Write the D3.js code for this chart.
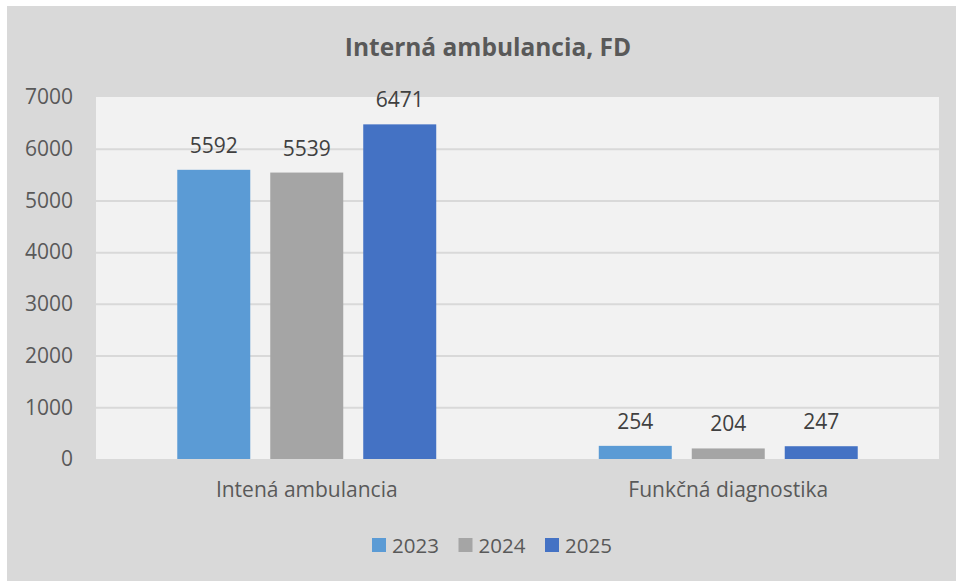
<!DOCTYPE html>
<html>
<head>
<meta charset="utf-8">
<script src="https://cdn.jsdelivr.net/npm/d3@7"></script>
<style>
  html, body { margin: 0; padding: 0; background: #fff; }
  svg text { font-family: "Open Sans", sans-serif; }
</style>
</head>
<body>
<svg id="chart" width="956" height="581"></svg>
<script>
const categories = ["Intená ambulancia", "Funkčná diagnostika"];
const years = ["2023", "2024", "2025"];
const values2023 = [5592, 254];
const values2024 = [5539, 204];
const values2025 = [6471, 247];
const yTicks = [0, 1000, 2000, 3000, 4000, 5000, 6000, 7000];
const colors = ["#5B9BD5", "#A5A5A5", "#4472C4"];

const seriesValues = [values2023, values2024, values2025];
const rows = categories.map((c, i) => ({
  category: c,
  bars: years.map((y, j) => ({ year: y, value: seriesValues[j][i], color: colors[j] }))
}));

const svg = d3.select("#chart");

// backgrounds
svg.append("rect").attr("x", 7).attr("y", 6).attr("width", 949).attr("height", 575).attr("fill", "#D9D9D9");

const plot = { left: 96, right: 939, top: 97, bottom: 459 };
svg.append("rect")
  .attr("x", plot.left).attr("y", plot.top)
  .attr("width", plot.right - plot.left).attr("height", plot.bottom - plot.top)
  .attr("fill", "#F2F2F2");

const x0 = d3.scaleBand().domain(categories).range([plot.left, plot.right]).padding(0);
const x1 = d3.scaleBand().domain(years).range([0, x0.bandwidth()])
  .paddingInner(20 / 93).paddingOuter(0.874);
const y = d3.scaleLinear().domain([0, 7000]).range([plot.bottom, plot.top]);

// gridlines
svg.append("g").selectAll("line")
  .data(yTicks.filter(t => t > 0 && t < 7000))
  .join("line")
  .attr("x1", plot.left).attr("x2", plot.right)
  .attr("y1", d => y(d) + 0.5).attr("y2", d => y(d) + 0.5)
  .attr("stroke", "#D9D9D9").attr("stroke-width", 2);

// y axis labels
const yAxis = svg.append("g")
  .attr("transform", `translate(${plot.left - 23},0)`)
  .call(d3.axisLeft(y).tickValues(yTicks).tickSize(0).tickPadding(0).tickFormat(d3.format("d")));
yAxis.select(".domain").remove();
yAxis.selectAll("text").attr("fill", "#595959").attr("font-size", 21)
  .attr("font-family", "Open Sans, sans-serif");

// x axis labels
const xAxis = svg.append("g")
  .attr("transform", `translate(0,${plot.bottom})`)
  .call(d3.axisBottom(x0).tickSize(0).tickPadding(23));
xAxis.select(".domain").remove();
xAxis.selectAll("text").attr("fill", "#595959").attr("font-size", 21)
  .attr("font-family", "Open Sans, sans-serif");

// bars
const groups = svg.append("g").selectAll("g")
  .data(rows)
  .join("g")
  .attr("transform", d => `translate(${x0(d.category)},0)`);

groups.selectAll("rect")
  .data(d => d.bars)
  .join("rect")
  .attr("x", d => x1(d.year))
  .attr("y", d => y(d.value))
  .attr("width", x1.bandwidth())
  .attr("height", d => y(0) - y(d.value))
  .attr("fill", d => d.color);

groups.selectAll("text")
  .data(d => d.bars)
  .join("text")
  .attr("x", d => x1(d.year) + x1.bandwidth() / 2)
  .attr("y", d => y(d.value) - 17)
  .attr("text-anchor", "middle")
  .attr("fill", "#404040")
  .attr("font-size", 21)
  .text(d => d.value);

// title
svg.append("text")
  .attr("x", 488).attr("y", 56)
  .attr("text-anchor", "middle")
  .attr("font-size", 24.5)
  .attr("font-weight", "bold")
  .attr("fill", "#595959")
  .text("Interná ambulancia, FD");

// legend
const legend = svg.append("g").selectAll("g")
  .data(years)
  .join("g")
  .attr("transform", (d, i) => `translate(${372 + i * 86.5},538)`);
legend.append("rect").attr("width", 14).attr("height", 14).attr("fill", (d, i) => colors[i]);
legend.append("text").attr("x", 20).attr("y", 14.5)
  .attr("fill", "#595959").attr("font-size", 20.5).text(d => d);
</script>
</body>
</html>
